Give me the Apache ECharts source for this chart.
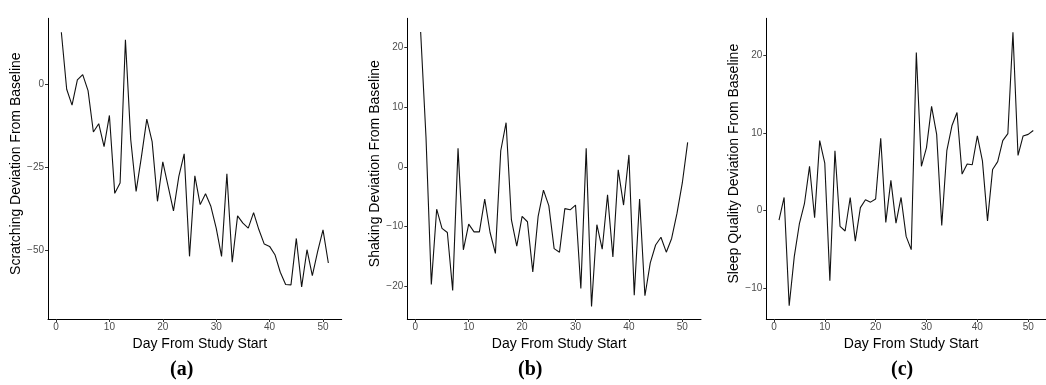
<!DOCTYPE html>
<html>
<head>
<meta charset="utf-8">
<script src="https://cdn.jsdelivr.net/npm/echarts@6/dist/echarts.min.js"></script>
<style>
html,body{margin:0;padding:0;background:#fff;}
#chart{width:1046px;height:385px;}
</style>
</head>
<body>
<div id="chart"></div>
<script>
const days = Array.from({length: 51}, (_, i) => i + 1);
const scratching = [15.7,-1.5,-6.3,1.3,2.9,-1.9,-14.4,-11.9,-18.8,-9.4,
  -32.9,-29.8,13.4,-16.8,-32.3,-21.8,-10.5,-17.3,-35.3,-23.4,
  -30.8,-38.2,-27.8,-21.0,-51.9,-27.6,-36.3,-33.0,-36.8,-43.4,
  -51.9,-27.0,-53.7,-39.7,-41.9,-43.4,-38.7,-43.9,-48.2,-48.9,
  -51.4,-56.7,-60.4,-60.5,-46.5,-61.1,-49.9,-57.7,-50.4,-43.9,-53.9];
const shaking = [22.6,5.0,-19.7,-7.1,-10.3,-11.0,-20.7,3.1,-13.9,-9.6,
  -10.9,-10.9,-5.4,-11.0,-14.5,2.7,7.4,-8.9,-13.3,-8.3,
  -9.2,-17.6,-8.3,-3.9,-6.5,-13.7,-14.3,-7.0,-7.2,-6.4,
  -20.4,3.1,-23.4,-9.7,-13.8,-4.7,-15.1,-0.5,-6.4,2.0,
  -21.5,-5.4,-21.6,-16.1,-13.1,-11.8,-14.3,-12.0,-7.8,-2.7,4.1];
const sleep = [-1.2,1.7,-12.2,-5.9,-1.7,0.9,5.7,-0.9,9.0,6.1,
  -9.0,7.7,-2.0,-2.6,1.7,-3.9,0.4,1.4,1.1,1.5,
  9.3,-1.5,3.9,-1.6,1.7,-3.3,-5.0,20.3,5.7,8.1,
  13.4,9.8,-1.9,7.7,10.9,12.6,4.7,6.0,5.9,9.6,
  6.4,-1.3,5.3,6.3,9.0,9.9,22.9,7.1,9.6,9.8,10.3];
const xTicks = [0,10,20,30,40,50];
const aTicks = [-50,-25,0];
const bTicks = [-20,-10,0,10,20];
const cTicks = [-10,0,10,20];
const yTitles = ['Scratching Deviation From Baseline','Shaking Deviation From Baseline','Sleep Quality Deviation From Baseline'];
const xTitle = 'Day From Study Start';
const panelLabels = ['(a)','(b)','(c)'];

const chart = echarts.init(document.getElementById('chart'), null, {renderer:'canvas'});
const fam = '"Liberation Sans", Arial, sans-serif';
const fmt = v => String(v).replace('-', '\u2212');

const panels = [
  {left:48, vals:scratching, ticks:aTicks, ymin:-70.8, ymax:19.9, lab:182},
  {left:407.3, vals:shaking, ticks:bTicks, ymin:-25.5, ymax:24.9, lab:530},
  {left:766.3, vals:sleep, ticks:cTicks, ymin:-13.9, ymax:24.7, lab:903}
];

const grid = [], xAxis = [], yAxis = [], series = [], graphic = [];
panels.forEach((p, i) => {
  grid.push({left:p.left, top:18.3, width:293.7, height:300.7, containLabel:false});
  xAxis.push({
    type:'value', gridIndex:i, min:-1.5, max:53.5,
    name:xTitle, nameLocation:'middle', nameGap:15,
    nameTextStyle:{fontFamily:fam, fontSize:14, color:'#000', padding:[0,0,0,10]},
    axisLine:{show:true, onZero:false, lineStyle:{color:'#000', width:1}},
    axisTick:{show:true, length:3, lineStyle:{color:'#333'}, customValues:xTicks},
    axisLabel:{show:true, margin:3, fontFamily:fam, fontSize:10, color:'#4d4d4d', customValues:xTicks, formatter:fmt},
    splitLine:{show:false}
  });
  yAxis.push({
    type:'value', gridIndex:i, min:p.ymin, max:p.ymax,
    name:yTitles[i], nameLocation:'middle', nameGap:18, nameRotate:90,
    nameTextStyle:{fontFamily:fam, fontSize:14, color:'#000', padding:[0,0,0,10]},
    axisLine:{show:true, onZero:false, lineStyle:{color:'#000', width:1}},
    axisTick:{show:true, length:3, lineStyle:{color:'#333'}, customValues:p.ticks},
    axisLabel:{show:true, margin:4, fontFamily:fam, fontSize:10, color:'#4d4d4d', customValues:p.ticks, formatter:fmt},
    splitLine:{show:false}
  });
  series.push({
    type:'line', xAxisIndex:i, yAxisIndex:i,
    data: days.map((d, k) => [d, p.vals[k]]),
    showSymbol:false, symbol:'none',
    lineStyle:{color:'#111', width:1.1},
    animation:false
  });
  graphic.push({
    type:'text', left:p.lab - 12, top:360,
    style:{text:panelLabels[i], font:'bold 20px "Liberation Serif", serif', fill:'#000'}
  });
});

chart.setOption({
  animation:false,
  grid, xAxis, yAxis, series, graphic
});
</script>
</body>
</html>
